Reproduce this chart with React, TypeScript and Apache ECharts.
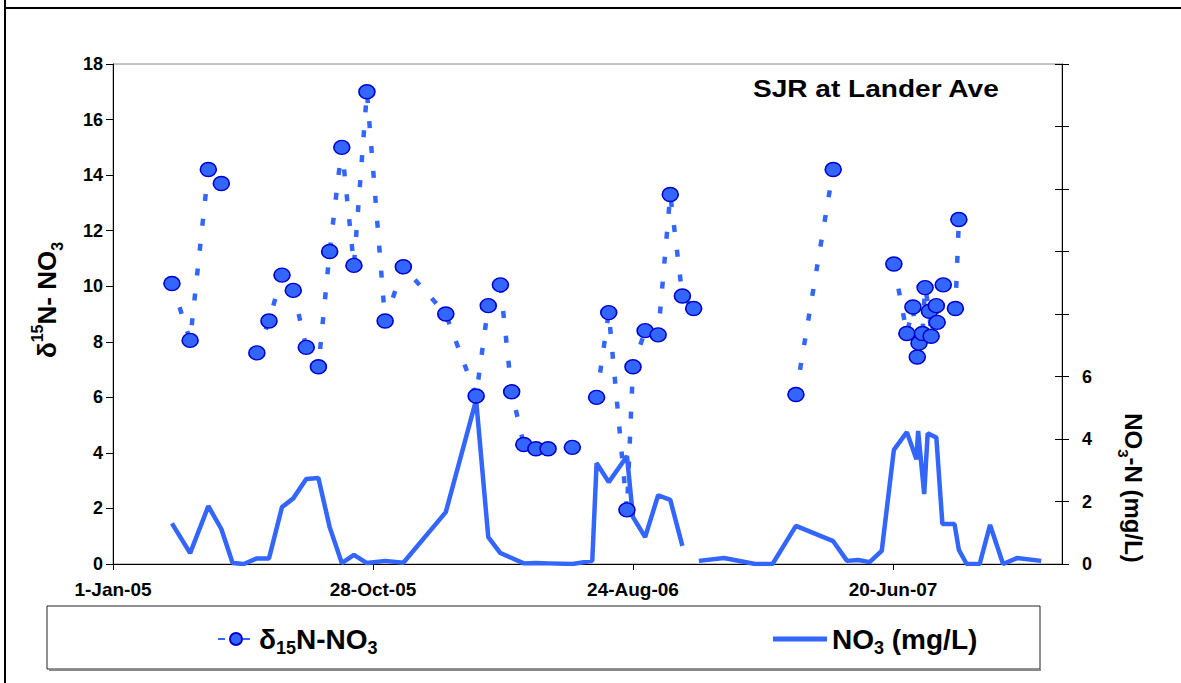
import React, { useEffect, useRef } from "react";
import * as echarts from "echarts";

// ---- data ----
const d15nDates = [
  "2005-03-10", "2005-03-31", "2005-04-21", "2005-05-06", "2005-05-25",
  "2005-06-16", "2005-06-30", "2005-07-15", "2005-07-28", "2005-08-12", "2005-08-26",
  "2005-09-08", "2005-09-22", "2005-10-06", "2005-10-21", "2005-11-11", "2005-12-02",
  "2006-01-20", "2006-02-24", "2006-03-10", "2006-03-24", "2006-04-06", "2006-04-20",
  "2006-05-04", "2006-05-18", "2006-06-01", "2006-06-15", "2006-06-30",
  "2006-07-13", "2006-07-27", "2006-08-17", "2006-08-24", "2006-09-07", "2006-09-22",
  "2006-10-06", "2006-10-20", "2006-11-02", "2006-12-31",
  "2007-02-28", "2007-04-12", "2007-05-15",
  "2007-06-21", "2007-07-06", "2007-07-13", "2007-07-18", "2007-07-20", "2007-07-24",
  "2007-07-27", "2007-08-01", "2007-08-03", "2007-08-09", "2007-08-10", "2007-08-17",
  "2007-08-31", "2007-09-04",
];
const d15nValues: (number | null)[] = [
  10.1, 8.05, 14.2, 13.7, null,
  7.6, 8.75, 10.4, 9.85, 7.8, 7.1,
  11.25, 15.0, 10.75, 17.0, 8.75, 10.7,
  9.0, 6.05, 9.3, 10.05, 6.2, 4.3,
  4.15, 4.15, null, 4.2, null,
  6.0, 9.05, 1.95, 7.1, 8.4, 8.25,
  13.3, 9.65, 9.2, null,
  6.1, 14.2, null,
  10.8, 8.3, 9.25, 7.45, 7.95, 8.3,
  9.95, 9.1, 8.2, 9.3, 8.7, 10.05,
  9.2, 12.4,
];

const no3Dates = [
  "2005-03-10", "2005-03-31", "2005-04-21", "2005-05-06", "2005-05-19", "2005-06-01",
  "2005-06-16", "2005-06-30", "2005-07-15", "2005-07-28", "2005-08-12", "2005-08-26",
  "2005-09-08", "2005-09-22", "2005-10-06", "2005-10-21", "2005-11-11", "2005-12-02",
  "2006-01-20", "2006-02-24", "2006-03-10", "2006-03-24", "2006-04-20", "2006-05-04",
  "2006-05-18", "2006-06-15", "2006-07-08", "2006-07-13", "2006-07-27", "2006-08-14",
  "2006-08-17", "2006-08-24", "2006-09-07", "2006-09-22", "2006-10-06", "2006-10-20",
  "2006-11-02",
  "2006-11-08", "2006-12-07", "2007-01-12", "2007-02-01", "2007-02-28", "2007-04-12",
  "2007-04-28", "2007-05-11", "2007-05-24", "2007-06-07", "2007-06-21", "2007-07-06",
  "2007-07-17", "2007-07-19", "2007-07-26", "2007-07-30", "2007-08-09", "2007-08-16",
  "2007-08-30", "2007-09-04", "2007-09-13", "2007-09-28", "2007-10-10", "2007-10-25",
  "2007-11-10", "2007-12-08",
];
const no3Values: (number | null)[] = [
  1.3, 0.35, 1.85, 1.12, 0.03, 0.0,
  0.18, 0.18, 1.82, 2.1, 2.72, 2.75,
  1.18, 0.03, 0.29, 0.03, 0.1, 0.04,
  1.66, 5.25, 0.86, 0.35, 0.02, 0.03,
  0.02, 0.0, 0.1, 3.23, 2.62, 3.33,
  3.46, 1.5, 0.86, 2.2, 2.05, 0.58,
  null,
  0.1, 0.19, 0.0, 0.0, 1.22, 0.73,
  0.1, 0.13, 0.06, 0.42, 3.65, 4.22,
  3.35, 4.26, 2.24, 4.18, 4.05, 1.28,
  1.28, 0.45, 0.0, 0.0, 1.25, 0.0,
  0.19, 0.1,
];

const leftTicks = { min: 0, max: 18, interval: 2 };
const rightTicks = { min: 0, max: 16, interval: 2, labelMax: 6 };
const xTicks = { start: "2005-01-01", end: "2008-01-01", intervalDays: 300 };

const MONTHS = ["Jan", "Feb", "Mar", "Apr", "May", "Jun", "Jul", "Aug", "Sep", "Oct", "Nov", "Dec"];
const DAY = 86400000;
const originMs = Date.parse(xTicks.start + "T00:00:00Z");
const toDay = (s: string) => (Date.parse(s + "T00:00:00Z") - originMs) / DAY;
const fmtDay = (v: number) => {
  const d = new Date(originMs + Math.round(v) * DAY);
  return `${d.getUTCDate()}-${MONTHS[d.getUTCMonth()]}-${String(d.getUTCFullYear()).slice(2)}`;
};

const BLUE = "#3366FF";
const FONT = "Liberation Sans, Arial, sans-serif";

export default function App() {
  const ref = useRef<HTMLDivElement>(null);
  useEffect(() => {
    if (!ref.current) return;
    const chart = echarts.init(ref.current, undefined, { renderer: "svg" });
    const d15nData = d15nDates.map((d, i) => [toDay(d), d15nValues[i] === null ? "-" : d15nValues[i]]);
    const no3Data = no3Dates.map((d, i) => [toDay(d), no3Values[i] === null ? "-" : no3Values[i]]);
    const xMax = toDay(xTicks.end);
    const labelStyle = { fontFamily: FONT, fontWeight: "bold" as const, fontSize: 18, color: "#000" };
    const legendRich = {
      t: { fontFamily: FONT, fontWeight: "bold", fontSize: 28, color: "#000", lineHeight: 36, verticalAlign: "middle" },
      s: { fontFamily: FONT, fontWeight: "bold", fontSize: 18, color: "#000", lineHeight: 36, verticalAlign: "bottom" },
    };
    chart.setOption({
      animation: false,
      backgroundColor: "#fff",
      grid: { left: 113, right: 119, top: 64, bottom: 119, show: true, borderColor: "#888", borderWidth: 1 },
      xAxis: {
        type: "value",
        min: 0,
        max: xMax,
        interval: xTicks.intervalDays,
        axisLine: { lineStyle: { color: "#000", width: 1 } },
        axisTick: { show: true, length: 6, lineStyle: { color: "#000" } },
        splitLine: { show: false },
        axisLabel: { ...labelStyle, fontSize: 19, margin: 16, showMaxLabel: false, formatter: (v: number) => (v > xMax - 100 ? "" : fmtDay(v)) },
      },
      yAxis: [
        {
          type: "value",
          position: "left",
          min: leftTicks.min,
          max: leftTicks.max,
          interval: leftTicks.interval,
          axisLine: { show: true, lineStyle: { color: "#000", width: 1 } },
          axisTick: { show: true, length: 7, lineStyle: { color: "#000" } },
          splitLine: { show: false },
          axisLabel: { ...labelStyle, margin: 10 },
        },
        {
          type: "value",
          position: "right",
          offset: 0,
          min: rightTicks.min,
          max: rightTicks.max,
          interval: rightTicks.interval,
          axisLine: { show: true, lineStyle: { color: "#000", width: 1 } },
          axisTick: { show: true, length: 7, lineStyle: { color: "#000" } },
          splitLine: { show: false },
          axisLabel: { ...labelStyle, margin: 20, formatter: (v: number) => (v <= rightTicks.labelMax ? String(v) : "") },
        },
        {
          type: "value",
          position: "right",
          offset: 0,
          min: rightTicks.min,
          max: rightTicks.max,
          interval: rightTicks.interval,
          axisLine: { show: false },
          axisTick: { show: true, inside: true, length: 7, lineStyle: { color: "#000" } },
          splitLine: { show: false },
          axisLabel: { show: false },
        },
      ],
      legend: [
        {
          data: ["δ15N-NO3"],
          left: 212,
          top: 620,
          itemWidth: 36,
          itemHeight: 15,
          formatter: () => "{t|δ}{s|15}{t|N-NO}{s|3}",
          textStyle: { rich: legendRich },
        },
        {
          data: [{ name: "NO3 (mg/L)", icon: "rect" }],
          left: 768,
          top: 620,
          itemWidth: 54,
          itemHeight: 5,
          itemStyle: { color: BLUE, borderWidth: 0 },
          formatter: () => "{t|NO}{s|3}{t| (mg/L)}",
          textStyle: { rich: legendRich },
        },
      ],
      graphic: [
        { type: "line", shape: { x1: 5, y1: 0, x2: 5, y2: 683 }, style: { stroke: "#000", lineWidth: 2 } },
        { type: "line", shape: { x1: 5, y1: 8, x2: 1181, y2: 8 }, style: { stroke: "#000", lineWidth: 2 } },
        { type: "rect", shape: { x: 47, y: 606, width: 993, height: 63 }, style: { fill: "#fff", stroke: "#222", lineWidth: 1 }, z: -1 },
        { type: "line", shape: { x1: 49, y1: 670, x2: 1041, y2: 670 }, style: { stroke: "#888", lineWidth: 2 }, z: -1 },
        {
          type: "text",
          x: 753,
          y: 89,
          scaleX: 1.22,
          style: { text: "SJR at Lander Ave", fontFamily: FONT, fontWeight: "bold", fontSize: 23, fill: "#000", verticalAlign: "middle", align: "left" },
        },
        {
          type: "text",
          x: 47,
          y: 300,
          rotation: Math.PI / 2,
          style: {
            text: "{t|δ}{s|15}{t|N- NO}{b|3}",
            align: "center",
            verticalAlign: "middle",
            rich: {
              t: { fontFamily: FONT, fontWeight: "bold", fontSize: 26, fill: "#000", lineHeight: 36, verticalAlign: "middle" },
              s: { fontFamily: FONT, fontWeight: "bold", fontSize: 16, fill: "#000", lineHeight: 36, verticalAlign: "top" },
              b: { fontFamily: FONT, fontWeight: "bold", fontSize: 16, fill: "#000", lineHeight: 36, verticalAlign: "bottom" },
            },
          },
        },
        {
          type: "text",
          x: 1133,
          y: 488,
          rotation: -Math.PI / 2,
          style: {
            text: "{t|NO}{b|3}{t|-N (mg/L)}",
            align: "center",
            verticalAlign: "middle",
            rich: {
              t: { fontFamily: FONT, fontWeight: "bold", fontSize: 24, fill: "#000", lineHeight: 34, verticalAlign: "middle" },
              b: { fontFamily: FONT, fontWeight: "bold", fontSize: 15, fill: "#000", lineHeight: 34, verticalAlign: "bottom" },
            },
          },
        },
      ],
      series: [
        {
          name: "NO3 (mg/L)",
          type: "line",
          yAxisIndex: 1,
          data: no3Data,
          showSymbol: false,
          symbol: "none",
          connectNulls: false,
          lineStyle: { color: BLUE, width: 4.5 },
          itemStyle: { color: BLUE },
          z: 2,
        },
        {
          name: "δ15N-NO3",
          type: "line",
          yAxisIndex: 0,
          data: d15nData,
          symbol: "path://M0,50 A50,50 0 1 1 100,50 A50,50 0 1 1 0,50 Z",
          symbolSize: [16, 14],
          connectNulls: false,
          lineStyle: { color: BLUE, width: 4.5, type: [7, 18] },
          itemStyle: { color: BLUE, borderColor: "#0000CC", borderWidth: 1.5 },
          z: 3,
        },
      ],
    });
    return () => chart.dispose();
  }, []);
  return <div ref={ref} style={{ position: "fixed", left: 0, top: 0, width: 1181, height: 683 }} />;
}
